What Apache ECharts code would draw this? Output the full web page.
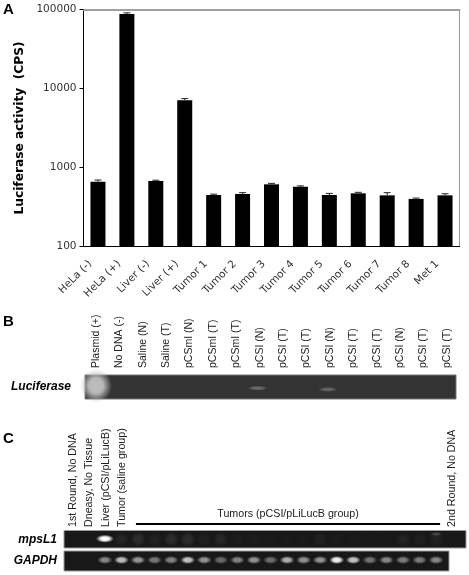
<!DOCTYPE html>
<html><head><meta charset="utf-8">
<style>html,body{margin:0;padding:0;background:#fff}#c{width:469px;height:575px}</style>
<script src="https://cdn.jsdelivr.net/npm/echarts@6/dist/echarts.min.js"></script>
</head><body><div id="c"></div>
<script>
// Panel A
const sampleNames = ['HeLa (-)','HeLa (+)','Liver (-)','Liver (+)','Tumor 1','Tumor 2','Tumor 3','Tumor 4','Tumor 5','Tumor 6','Tumor 7','Tumor 8','Met 1'];
const luciferaseCps = [661,88000,674,7100,449,462,612,571,449,471,444,400,444];
const luciferaseUpper = [694,90600,690,7450,460,480,630,585,470,485,480,410,465];
const yTickMin = 100, yTickMax = 100000;
// Panel B
const laneNamesB = ['Plasmid (+)','No DNA (-)','Saline (N)','Saline (T)','pCSmI (N)','pCSmI (T)','pCSmI (T)','pCSI (N)','pCSI (T)','pCSI (T)','pCSI (N)','pCSI (T)','pCSI (T)','pCSI (N)','pCSI (T)','pCSI (T)'];
const lucBandLanes = [0, 6.9, 9.9];
const lucBandGray = [190, 105, 100];
const lucBandY = [0.55, 0.45, 0.4];
// Panel C
const laneNamesC = ['1st Round, No DNA','Dneasy, No Tissue','Liver (pCSI/pLiLucB)','Tumor (saline group)','','','','','','','','','','','','','','','','','','','','2nd Round, No DNA'];
const tumorGroupLabel = 'Tumors (pCSI/pLiLucB group)';
const tumorGroupSpan = [3.83, 22.25];
const mpsLanes = [3,4,5,6,7,8,9,10,11,12,13,14,15,16,17,18,19,20,21,22];
const mpsSmearGray = [36,44,33,44,44,31,38,28,28,26,26,26,33,28,26,25,25,35,31,33];
const mpsBandLanes = [2, 22];
const mpsBandGray = [255, 70];
const mpsBandY = [0.53, 0.8];
const gapdhLanes = [2,3,4,5,6,7,8,9,10,11,12,13,14,15,16,17,18,19,20,21,22];
const gapdhGray = [135,190,150,120,130,195,145,105,130,145,110,175,145,145,240,195,115,135,125,125,135];

const soft = v => ({type:'radial',x:0.5,y:0.5,r:0.5,colorStops:[
  {offset:0,color:`rgba(${v},${v},${v},1)`},{offset:0.45,color:`rgba(${v},${v},${v},0.95)`},{offset:1,color:`rgba(${v},${v},${v},0)`}]});
const bands = (lanes, grays, y) => lanes.map((l,i)=>({value:[l,Array.isArray(y)?y[i]:y],itemStyle:{color:soft(grays[i])}}));
const hiddenX = (gridIndex,min,max)=>({type:'value',gridIndex,min,max,show:false});
const gelY = (gridIndex,name,gap)=>({type:'value',gridIndex,min:0,max:1,name,nameLocation:'middle',nameRotate:0,nameGap:gap,
  nameTextStyle:{fontFamily:'Liberation Sans',fontWeight:'bold',fontStyle:'italic',fontSize:12,color:'#000'},
  axisLine:{show:false},axisTick:{show:false},axisLabel:{show:false},splitLine:{show:false}});
const bandSeries = (x,y,data,size,z)=>({type:'scatter',xAxisIndex:x,yAxisIndex:y,symbol:'rect',symbolSize:size,data,silent:true,z:z||2,
  itemStyle:{opacity:1},clip:true});
const letter=(t,top)=>({text:t,left:3,top,padding:0,textStyle:{fontFamily:'Liberation Sans',fontWeight:'bold',fontSize:15,color:'#000'}});
const laneLabel={show:true,inside:true,rotate:90,interval:0,margin:0,fontFamily:'Liberation Sans',fontSize:10.5,color:'#222'};

const option={
  animation:false,backgroundColor:'#fff',
  title:[letter('A',2),letter('B',314),letter('C',431)],
  grid:[
    {left:83.5,top:9.5,width:376,height:237,show:true,borderColor:'#999',borderWidth:1,backgroundColor:'#fff'},
    {left:84.3,top:310,width:374.4,height:58},
    {left:85,top:375,width:371,height:24,show:true,backgroundColor:'#333',borderColor:'#777',borderWidth:1},
    {left:56.2,top:425,width:414,height:102},
    {left:64,top:530.5,width:402,height:17.5,show:true,backgroundColor:'#181818',borderColor:'#999',borderWidth:1},
    {left:64,top:551,width:385,height:21,show:true,backgroundColor:'#181818',borderColor:'#999',borderWidth:1}
  ],
  xAxis:[
    {type:'category',gridIndex:0,data:sampleNames,axisLine:{lineStyle:{color:'#000'}},axisTick:{alignWithLabel:false,length:4,lineStyle:{color:'#000'}},
      axisLabel:{interval:0,rotate:45,margin:8,padding:[0,11,0,0],fontFamily:'DejaVu Sans',fontSize:10.5,color:'#333'}},
    {type:'category',gridIndex:0,position:'top',data:sampleNames,axisLine:{lineStyle:{color:'#a0a0a0',width:2}},axisTick:{show:false},axisLabel:{show:false}},
    {type:'category',gridIndex:1,data:laneNamesB,axisLine:{show:false},axisTick:{show:false},axisLabel:laneLabel},
    hiddenX(2,-0.47,15.37),
    {type:'value',gridIndex:3,min:-1,max:24,interval:1,axisLine:{show:false},axisTick:{show:false},splitLine:{show:false},
      axisLabel:Object.assign({},laneLabel,{fontSize:10.7,showMinLabel:true,showMaxLabel:true,hideOverlap:false,formatter:v=>laneNamesC[v]||''})},
    hiddenX(4,-0.47,23.8),
    hiddenX(5,-0.47,22.78)
  ],
  yAxis:[
    {type:'log',gridIndex:0,logBase:10,min:yTickMin,max:yTickMax,name:'Luciferase activity  (CPS)',nameLocation:'middle',nameGap:54,
      nameTextStyle:{fontFamily:'DejaVu Sans',fontWeight:'bold',fontSize:12.2,color:'#000'},
      axisLine:{show:true,lineStyle:{color:'#000'}},axisTick:{show:true,length:4,lineStyle:{color:'#000'}},splitLine:{show:false},minorTick:{show:false},
      axisLabel:{fontFamily:'DejaVu Sans',fontSize:10.5,color:'#333',margin:7,formatter:v=>String(Math.round(v))}},
    {type:'value',gridIndex:1,min:0,max:1,show:false},
    gelY(2,'Luciferase',14),
    {type:'value',gridIndex:3,min:0,max:1,show:false},
    gelY(4,'mpsL1',7),
    gelY(5,'GAPDH',7)
  ],
  series:[
    {type:'bar',xAxisIndex:0,yAxisIndex:0,data:luciferaseCps,barWidth:15,itemStyle:{color:'#000'},silent:true},
    {type:'custom',xAxisIndex:0,yAxisIndex:0,silent:true,z:3,
      data:luciferaseUpper.map((u,i)=>[i,u,luciferaseCps[i]]),
      renderItem(params,api){
        const hi=api.coord([api.value(0),api.value(1)]),lo=api.coord([api.value(0),api.value(2)]);
        const st={stroke:'#222',lineWidth:1,fill:null};
        return {type:'group',children:[
          {type:'line',shape:{x1:hi[0],y1:hi[1],x2:lo[0],y2:lo[1]},style:st},
          {type:'line',shape:{x1:hi[0]-3.5,y1:hi[1],x2:hi[0]+3.5,y2:hi[1]},style:st}]};
      }},
    bandSeries(3,2,bands(lucBandLanes,lucBandGray,lucBandY),(v)=>v[0]===lucBandLanes[0]?[32,34]:[20,5]),
    {type:'custom',xAxisIndex:4,yAxisIndex:3,silent:true,data:[[tumorGroupSpan[0],tumorGroupSpan[1]]],
      renderItem(params,api){
        const a=api.coord([api.value(0),0.03]),b=api.coord([api.value(1),0.03]),t=api.coord([(api.value(0)+api.value(1))/2,0.075]);
        return {type:'group',children:[
          {type:'line',shape:{x1:a[0],y1:a[1],x2:b[0],y2:b[1]},style:{stroke:'#000',lineWidth:2}},
          {type:'text',x:t[0],y:t[1],style:{text:tumorGroupLabel,fill:'#222',font:'10.7px "Liberation Sans"',align:'center',verticalAlign:'bottom'}}]};
      }},
    bandSeries(5,4,bands(mpsLanes,mpsSmearGray,0.5),[15,15]),
    bandSeries(5,4,bands(mpsBandLanes,mpsBandGray,mpsBandY),(v)=>v[0]===mpsBandLanes[0]?[18,8]:[12,4],3),
    bandSeries(6,5,bands(gapdhLanes,gapdhGray,0.55),[15,8])
  ]
};
echarts.init(document.getElementById('c'),null,{renderer:'canvas'}).setOption(option);
</script></body></html>
